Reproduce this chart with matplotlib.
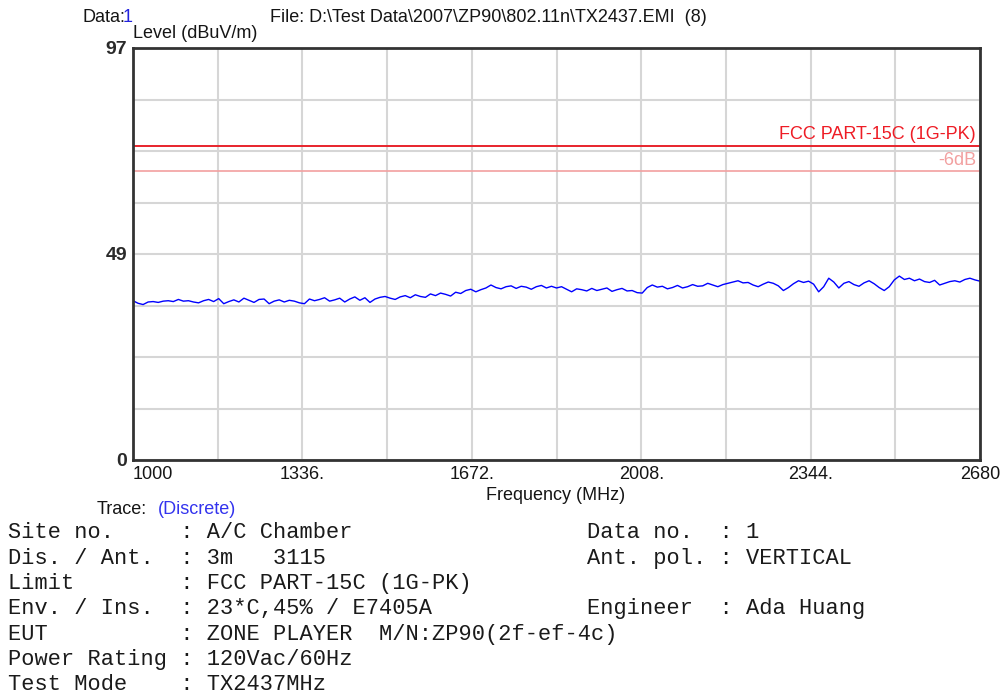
import numpy as np
import matplotlib
matplotlib.use("Agg")
from matplotlib import pyplot as plt

# frequency axis, 10 MHz steps
freq = np.arange(1000, 2681, 10)

# level (dBuV/m)
level = [
    37.5, 36.9, 36.6, 37.2, 37.3, 37.1, 37.4, 37.5, 37.3, 37.8, 37.4, 37.5, 37.2, 37.0, 37.5, 37.8, 37.3,
    38.0, 36.8, 37.3, 37.7, 37.2, 38.1, 37.6, 37.1, 37.8, 37.9, 36.8, 37.4, 37.7, 37.2, 37.6, 37.4, 37.0,
    36.8, 37.9, 37.5, 37.8, 38.2, 37.4, 37.7, 38.1, 37.2, 37.9, 38.4, 37.6, 38.2, 37.1, 37.9, 38.3, 38.5,
    38.1, 37.8, 38.4, 38.7, 38.2, 38.9, 38.5, 38.3, 39.1, 38.7, 39.3, 39.0, 38.6, 39.5, 39.2, 39.9, 40.2,
    39.6, 40.1, 40.5, 41.2, 40.6, 40.3, 40.8, 41.0, 40.4, 40.9, 40.7, 40.2, 40.8, 41.1, 40.5, 40.9, 40.5,
    40.8, 40.2, 39.6, 40.3, 40.1, 39.8, 40.4, 39.9, 40.2, 40.5, 39.7, 40.1, 40.4, 39.8, 39.9, 39.4,
    39.3, 40.6, 41.2, 40.7, 40.9, 40.3, 40.6, 41.1, 40.5, 40.8, 41.3, 40.9, 41.0, 41.6, 41.2, 40.8, 41.3,
    41.6, 41.9, 42.2, 41.7, 41.8, 41.2, 40.8, 41.4, 41.9, 41.6, 41.0, 39.9, 40.6, 41.5, 42.2, 41.8, 42.1,
    41.4, 39.6, 40.8, 42.8, 41.9, 40.5, 41.6, 42.0, 41.3, 40.9, 41.7, 42.2, 41.5, 40.6, 39.9, 40.8, 42.4,
    43.3, 42.5, 42.8, 42.2, 42.6, 42.0, 41.8, 42.3, 41.2, 41.6, 42.0, 42.2, 41.9, 42.5, 42.8, 42.4, 42.1,
]

limit_pk = 74
limit_margin = 68

x_ticks = [1000 + 168 * k for k in range(11)]
x_labels = ["1000", "", "1336.", "", "1672.", "", "2008.", "", "2344.", "", "2680"]
y_ticks = [97 / 8 * k for k in range(9)]
y_labels = ["0", "", "", "", "49", "", "", "", "97"]

info_left = [
    "Site no.     : A/C Chamber",
    "Dis. / Ant.  : 3m   3115",
    "Limit        : FCC PART-15C (1G-PK)",
    "Env. / Ins.  : 23*C,45% / E7405A",
    "EUT          : ZONE PLAYER  M/N:ZP90(2f-ef-4c)",
    "Power Rating : 120Vac/60Hz",
    "Test Mode    : TX2437MHz",
]
info_right = [
    "Data no.  : 1",
    "Ant. pol. : VERTICAL",
    "",
    "Engineer  : Ada Huang",
]

sans = ["Liberation Sans", "DejaVu Sans"]
mono = ["Liberation Mono", "DejaVu Sans Mono"]
fs = 13
ink = "#151515"

fig = plt.figure(figsize=(10.05, 6.95), dpi=100)
ax = fig.add_axes([133 / 1005, 1 - 460 / 695, 847 / 1005, 412 / 695])

ax.plot(freq, level, color="#0000ff", lw=1.0)
ax.axhline(limit_pk, color="#e8242c", lw=1.4)
ax.axhline(limit_margin, color="#f2a0a0", lw=1.2)

ax.set_xlim(1000, 2680)
ax.set_ylim(0, 97)
ax.set_xticks(x_ticks)
ax.set_xticklabels(x_labels, family=sans, fontsize=fs, color=ink)
ax.get_xticklabels()[0].set_ha("left")
ax.set_yticks(y_ticks)
ax.set_yticklabels(y_labels, family=sans, fontsize=14, fontweight="bold", color="#2a2a2a")
ax.tick_params(length=0, pad=4)
ax.grid(True, color="#d6d6d6", lw=1.5)
ax.set_axisbelow(True)
for s in ax.spines.values():
    s.set_color("#333333")
    s.set_linewidth(2)

ax.text(2672, limit_pk + 0.6, "FCC PART-15C (1G-PK)", color="#ee1c25", ha="right", va="bottom",
        family=sans, fontsize=fs)
ax.text(2672, limit_margin + 0.6, "-6dB", color="#f2a0a0", ha="right", va="bottom",
        family=sans, fontsize=fs)

# header texts
fig.text(82 / 1005, 1 - 17 / 695, "Data:", family=sans, fontsize=fs, va="center", color=ink)
fig.text(123 / 1005, 1 - 17 / 695, "1", family=sans, fontsize=fs, va="center", color="#2222dd")
fig.text(270 / 1005, 1 - 17 / 695, "File: D:\\Test Data\\2007\\ZP90\\802.11n\\TX2437.EMI  (8)",
         family=sans, fontsize=fs, va="center", color=ink)
fig.text(133 / 1005, 1 - 34 / 695, "Level (dBuV/m)", family=sans, fontsize=fs, va="center",
         color=ink)
fig.text(556 / 1005, 1 - 496 / 695, "Frequency (MHz)", family=sans, fontsize=fs, va="center",
         ha="center", color=ink)
fig.text(97 / 1005, 1 - 509 / 695, "Trace:", family=sans, fontsize=fs, va="center", color=ink)
fig.text(158 / 1005, 1 - 509 / 695, "(Discrete)", family=sans, fontsize=fs, va="center",
         color="#3333ee")

for i, line in enumerate(info_left):
    fig.text(8 / 1005, 1 - (533 + 25.3 * i) / 695, line, family=mono, fontsize=15.8,
             va="center", color="#1a1a1a")
for i, line in enumerate(info_right):
    if line:
        fig.text(587 / 1005, 1 - (533 + 25.3 * i) / 695, line, family=mono, fontsize=15.8,
                 va="center", color="#1a1a1a")

fig.savefig("out.png", dpi=100)
plt.close(fig)
